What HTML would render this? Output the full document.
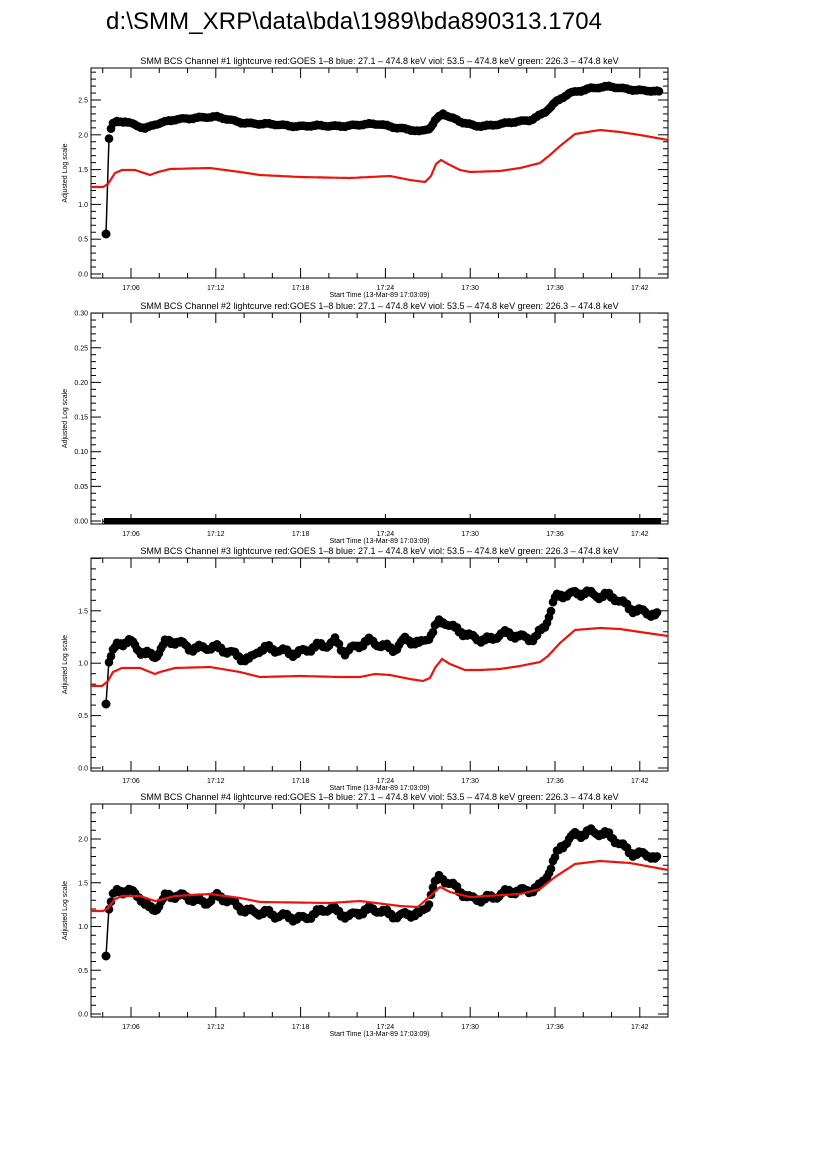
<!DOCTYPE html>
<html><head><meta charset="utf-8"><style>
body{margin:0;background:#fff;}
svg{display:block;font-family:"Liberation Sans",sans-serif;}
</style></head><body>
<svg id="s" width="826" height="1169" xmlns="http://www.w3.org/2000/svg">
<rect width="826" height="1169" fill="#fff"/>
<text x="354" y="29" font-size="24" text-anchor="middle" fill="#000" textLength="496">d:\SMM_XRP\data\bda\1989\bda890313.1704</text>
</svg>
<script>
const S=document.getElementById('s');let out='';
const L=91,R=668;
function xt(m){return 131+(m-6)*84.8/6;}
function interp(pts,x){if(x<=pts[0][0])return pts[0][1];for(let i=1;i<pts.length;i++){if(x<=pts[i][0]){const a=pts[i-1],b=pts[i];return a[1]+(b[1]-a[1])*(x-a[0])/(b[0]-a[0]);}}return pts[pts.length-1][1];}
function poly(pts,x0,x1,col,w){let d='';for(let x=x0;x<=x1;x+=1){d+=(d?'L':'M')+x+' '+interp(pts,x).toFixed(1);}return `<path d="${d}" fill="none" stroke="${col}" stroke-width="${w}"/>`;}
function dots(pts,noise){let s='';const x0=pts[0][0],x1=pts[pts.length-1][0];
 let d='M'+pts[0][0]+' '+pts[0][1]+'L'+pts[1][0]+' '+pts[1][1];
 s+=`<path d="${d}" stroke="#000" stroke-width="1.5"/>`;
 s+=`<circle cx="${pts[0][0]}" cy="${pts[0][1]}" r="4.5"/>`;
 for(let x=pts[1][0];x<=x1;x+=2){const n=noise*(Math.sin(x*0.37)+Math.sin(x*0.13+1)*0.8+Math.sin(x*1.7)*0.5);s+=`<circle cx="${x}" cy="${(interp(pts,x)+n).toFixed(1)}" r="4.3"/>`;}
 return s;}
function panel(top,bot,y0,ppu,ymaxLab,major,minor,dec,num){
 let s=`<rect x="${L}" y="${top}" width="${R-L}" height="${bot-top}" fill="none" stroke="#000" stroke-width="1"/>`;
 s+=`<text x="${(L+R)/2}" y="${top-4}" font-size="9" text-anchor="middle">SMM BCS Channel #${num} lightcurve  red:GOES 1–8  blue: 27.1 – 474.8 keV  viol: 53.5 – 474.8 keV  green: 226.3 – 474.8 keV</text>`;
 const nmin=Math.round(ymaxLab/minor);
 for(let i=0;i<=nmin+10;i++){const v=i*minor;const y=y0-v*ppu;if(y<top-2)break;const isM=Math.abs(v/major-Math.round(v/major))<1e-6;const len=isM?10:5;
  s+=`<line x1="${L}" x2="${L+len}" y1="${y}" y2="${y}" stroke="#000"/><line x1="${R}" x2="${R-len}" y1="${y}" y2="${y}" stroke="#000"/>`;
  if(isM&&v<=ymaxLab+1e-6)s+=`<text x="${L-3}" y="${y+2.5}" font-size="7" text-anchor="end">${v.toFixed(dec)}</text>`;}
 for(let m=4;m<=44;m+=2){const x=xt(m);if(x<L||x>R)continue;const isM=m%6==0;const len=isM?10:5;
  s+=`<line x1="${x}" x2="${x}" y1="${bot}" y2="${bot-len}" stroke="#000"/><line x1="${x}" x2="${x}" y1="${top}" y2="${top+len}" stroke="#000"/>`;
  if(isM)s+=`<text x="${x}" y="${bot+12}" font-size="7" text-anchor="middle">17:${String(m).padStart(2,'0')}</text>`;}
 s+=`<text x="${(L+R)/2}" y="${bot+19}" font-size="7" text-anchor="middle">Start Time (13-Mar-89 17:03:09)</text>`;
 const yc=(top+bot)/2;s+=`<text transform="translate(67,${yc}) rotate(-90)" font-size="7" text-anchor="middle">Adjusted Log scale</text>`;
 return s;}
out+=panel(68,278,274,69.6,2.5,0.5,0.1,1,1);
out+=panel(313,524,521,693,0.30,0.05,0.01,2,2);
out+=panel(558,771,768,104.8,1.5,0.5,0.1,1,3);
out+=panel(804,1017,1014,87.5,2.0,0.5,0.1,1,4);
const b1=[[106,234],[109,138],[112,124],[117,122],[125,122],[135,125],[145,128],[155,124],[175,120],[200,117],[215,117],[240,122],[260,124],[300,126],[330,126],[360,125],[380,124],[400,128],[420,132],[430,128],[436,119],[443,113],[450,117],[460,122],[475,126],[490,125],[510,123],[530,120],[545,112],[555,103],[570,93],[590,88],[610,87],[630,89],[659,92]];
const r1=[[91,187],[103,187],[108,184],[115,173],[122,170],[135,170],[150,175],[158,172],[170,169],[210,168],[240,172],[260,175],[300,177],[350,178],[370,177],[390,176],[410,180],[425,182],[431,176],[436,164],[441,160],[448,164],[460,170],[470,172],[500,171],[520,168],[540,163],[550,155],[560,146],[575,134],[600,130],[620,132],[640,135],[668,140]];
out+=dots(b1,0.6)+poly(r1,91,668,'#e8150f',2.2);
out+=`<path d="M103 522L106 519L660 519" stroke="#000" stroke-width="1"/><rect x="104" y="518" width="557" height="6" fill="#000"/>`;
const b3=[[106,704],[109,660],[113,652],[118,645],[125,644],[130,643],[140,650],[155,655],[165,644],[175,643],[190,647],[205,646],[225,652],[250,658],[258,650],[275,651],[300,651],[325,647],[335,640],[345,650],[370,643],[395,647],[405,640],[420,646],[430,635],[438,621],[445,620],[455,630],[470,638],[490,638],[500,634],[520,638],[535,636],[545,625],[550,613],[555,600],[565,596],[575,593],[585,590],[600,597],[615,599],[630,606],[645,612],[657,618]];
const r3=[[91,686],[102,686],[108,681],[113,672],[122,668],[140,668],[155,674],[160,672],[175,668],[210,667],[240,672],[260,677],[300,676],[340,677],[360,677],[375,674],[390,675],[410,679],[423,681],[430,678],[435,668],[442,659],[450,664],[465,670],[480,670],[500,669],[520,666],[540,662],[548,656],[560,643],[575,630],[600,628],[620,629],[640,632],[668,636]];
out+=dots(b3,2.5)+poly(r3,91,668,'#e8150f',2.2);
const b4=[[106,956],[109,907],[113,896],[118,892],[130,893],[140,896],[148,906],[155,908],[165,898],[180,897],[195,897],[205,902],[215,898],[230,902],[245,908],[260,913],[275,917],[290,915],[305,918],[320,914],[330,908],[350,915],[380,910],[400,915],[420,916],[428,905],[433,885],[440,875],[447,880],[460,893],[470,900],[490,896],[520,892],[540,885],[550,870],[560,850],[575,834],[590,830],[610,838],[630,850],[650,856],[657,862]];
const r4=[[91,911],[103,911],[108,908],[115,899],[122,896],[140,896],[155,901],[160,900],[175,896],[210,894],[240,898],[260,902],[330,903],[360,901],[400,906],[418,907],[428,898],[440,887],[450,892],[470,897],[520,894],[540,889],[555,877],[575,864],[600,861],[630,863],[668,870]];
out+=dots(b4,2.5)+poly(r4,91,668,'#e8150f',2.2);
S.insertAdjacentHTML('beforeend',out);
</script>
</body></html>
